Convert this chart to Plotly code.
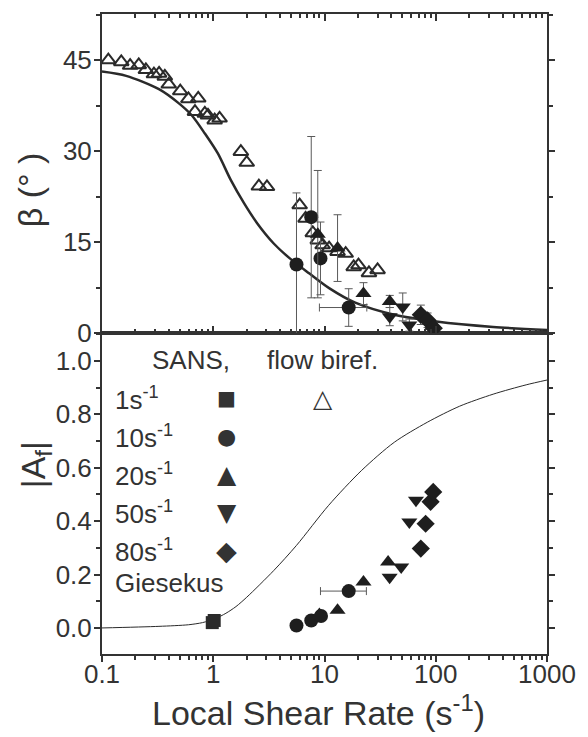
import plotly.graph_objects as go

# ---------------- data ----------------
# Top panel: orientation angle beta (deg)
biref_rate = [0.114, 0.149, 0.179, 0.214, 0.248, 0.293, 0.326, 0.367, 0.398, 0.505,
              0.598, 0.733, 0.685, 0.84, 0.897, 1.03, 1.14, 1.77, 2.0, 2.57, 3.04,
              5.98, 6.76, 7.85, 8.7, 9.62, 11.0, 13.1, 15.5, 18.3, 20.2, 25.1, 30.0]
biref_beta = [45.0, 44.7, 44.1, 44.2, 43.4, 42.7, 42.8, 42.3, 41.0, 39.9,
              38.6, 38.7, 36.5, 36.2, 35.9, 35.1, 35.4, 29.9, 28.1, 24.2, 24.1,
              21.1, 18.9, 16.5, 15.3, 14.5, 14.0, 13.4, 13.1, 10.9, 11.2, 9.9, 10.4]

b10_rate = [5.6, 7.6, 9.2, 16.5]
b10_beta = [11.3, 19.1, 12.3, 4.2]
b10_err = [11.8, 13.3, 6.0, 3.1]
b10_xerr = [0.0, 0.0, 0.0, 7.5]

b20_rate = [8.7, 13.1, 22.4, 38.6]
b20_beta = [16.3, 14.0, 6.5, 5.2]
b20_err = [10.5, 5.5, 1.8, 1.0]

b50_rate = [38.6, 50.5, 57.9]
b50_beta = [2.7, 4.3, 1.3]
b50_err = [1.5, 2.3, 1.0]

b80_rate = [73.4, 84.4, 96.0]
b80_beta = [3.0, 2.1, 0.8]
b80_err = [1.6, 1.2, 0.8]

gies_beta_rate = [0.1, 0.165, 0.325, 0.488, 0.64, 0.84, 1.1, 1.44, 1.89, 2.48, 3.48, 4.88,
                  7.33, 11.0, 18.9, 42.4, 101, 328, 1000]
gies_beta = [43.1, 42.4, 40.2, 37.9, 35.9, 32.9, 29.6, 25.2, 21.4, 18.1, 14.8, 12.3,
             9.8, 7.4, 5.0, 3.0, 1.9, 1.0, 0.5]

# Bottom panel: alignment |A_f|
a1_rate = [0.98, 1.02]
a1_val = [0.02, 0.028]

a10_rate = [5.6, 7.6, 9.3, 16.5]
a10_val = [0.009, 0.028, 0.045, 0.138]
a10_xerr = [0.0, 0.0, 0.0, 7.3]

a20_rate = [9.0, 13.1, 22.4, 37.3]
a20_val = [0.05, 0.066, 0.172, 0.247]

a50_rate = [38.5, 48.9, 57.9, 66.4]
a50_val = [0.19, 0.228, 0.397, 0.478]

a80_rate = [73.4, 81.1, 89.9, 94.9]
a80_val = [0.297, 0.39, 0.472, 0.509]

gies_a_rate = [0.1, 0.325, 0.6, 0.8, 1.03, 1.3, 1.6, 2.0, 3.5, 5.6, 10.9, 21.6, 42.4, 84, 164, 328, 650, 1000]
gies_a = [0.0, 0.006, 0.012, 0.02, 0.034, 0.055, 0.08, 0.115, 0.215, 0.309, 0.459, 0.59, 0.695, 0.77, 0.83, 0.875, 0.91, 0.928]

x_tickvals = [0.1, 1, 10, 100, 1000]
x_ticktext = ["0.1", "1", "10", "100", "1000"]
beta_ticks = [0, 15, 30, 45]
a_ticks = [0.0, 0.2, 0.4, 0.6, 0.8, 1.0]
a_ticktext = ["0.0", "0.2", "0.4", "0.6", "0.8", "1.0"]

# ---------------- styling ----------------
W, H = 588, 737
ML, MR, MT, MB = 102, 33, 14, 83
DARK = "#1e1e1e"
AX = "#333333"
ERR = "#5a5a5a"
FONT = "Liberation Sans"
split = 321 / 640.0

x_minor = [m * 10 ** e for e in range(-1, 3) for m in range(2, 10)]

fig = go.Figure()

def err(arr, w=4):
    return dict(type="data", array=arr, visible=True, color=ERR, thickness=1, width=w)

# ---- top panel ----
fig.add_trace(go.Scatter(x=gies_beta_rate, y=gies_beta, mode="lines",
                         line=dict(color="#2a2a2a", width=2.5, shape="spline", smoothing=0.8),
                         xaxis="x2", yaxis="y2", showlegend=False))
fig.add_trace(go.Scatter(x=biref_rate, y=biref_beta, mode="markers",
                         marker=dict(symbol="triangle-up-open", size=13, color="#2a2a2a", line=dict(width=2)),
                         xaxis="x2", yaxis="y2", showlegend=False))
fig.add_trace(go.Scatter(x=b10_rate, y=b10_beta, mode="markers", error_y=err(b10_err), error_x=err(b10_xerr),
                         marker=dict(symbol="circle", size=14, color=DARK), xaxis="x2", yaxis="y2", showlegend=False))
fig.add_trace(go.Scatter(x=b20_rate, y=b20_beta, mode="markers", error_y=err(b20_err),
                         marker=dict(symbol="triangle-up", size=14, color=DARK), xaxis="x2", yaxis="y2", showlegend=False))
fig.add_trace(go.Scatter(x=b50_rate, y=b50_beta, mode="markers", error_y=err(b50_err),
                         marker=dict(symbol="triangle-down", size=14, color=DARK), xaxis="x2", yaxis="y2", showlegend=False))
fig.add_trace(go.Scatter(x=b80_rate, y=b80_beta, mode="markers", error_y=err(b80_err),
                         marker=dict(symbol="diamond", size=14, color=DARK), xaxis="x2", yaxis="y2", showlegend=False))

# ---- bottom panel ----
fig.add_trace(go.Scatter(x=gies_a_rate, y=gies_a, mode="lines",
                         line=dict(color="#2a2a2a", width=1, shape="spline", smoothing=0.8),
                         xaxis="x", yaxis="y", showlegend=False))
fig.add_trace(go.Scatter(x=a1_rate, y=a1_val, mode="markers",
                         marker=dict(symbol="square", size=13, color="#2a2a2a"), xaxis="x", yaxis="y", showlegend=False))
fig.add_trace(go.Scatter(x=a10_rate, y=a10_val, mode="markers", error_x=err(a10_xerr),
                         marker=dict(symbol="circle", size=14, color=DARK), xaxis="x", yaxis="y", showlegend=False))
fig.add_trace(go.Scatter(x=a20_rate, y=a20_val, mode="markers",
                         marker=dict(symbol="triangle-up", size=14, color=DARK), xaxis="x", yaxis="y", showlegend=False))
fig.add_trace(go.Scatter(x=a50_rate, y=a50_val, mode="markers",
                         marker=dict(symbol="triangle-down", size=14, color=DARK), xaxis="x", yaxis="y", showlegend=False))
fig.add_trace(go.Scatter(x=a80_rate, y=a80_val, mode="markers",
                         marker=dict(symbol="diamond", size=14, color=DARK), xaxis="x", yaxis="y", showlegend=False))

tickfont = dict(family=FONT, size=26, color=AX)
common_x = dict(type="log", range=[-1, 3], showline=True, linecolor=AX, linewidth=2,
                tickvals=x_tickvals, ticktext=x_ticktext, tickcolor=AX, tickwidth=2,
                showgrid=False, zeroline=False, tickfont=tickfont)

fig.update_layout(
    width=W, height=H, margin=dict(l=ML, r=MR, t=MT, b=MB),
    paper_bgcolor="white", plot_bgcolor="white",
    font=dict(family=FONT, color=AX),
    xaxis=dict(**common_x, anchor="y", ticks="outside", ticklen=6, mirror=True, ticklabelstandoff=-10,
               minor=dict(tickvals=x_minor, ticks="outside", ticklen=4, tickwidth=1.5, tickcolor=AX)),
    xaxis2=dict(**common_x, anchor="y2", matches="x", ticks="inside", ticklen=7, mirror="ticks",
                showticklabels=False,
                minor=dict(tickvals=x_minor, ticks="inside", ticklen=4, tickwidth=1.5, tickcolor=AX)),
    yaxis=dict(domain=[0, split], range=[-0.0975, 1.104], showline=True, linecolor=AX, linewidth=2,
               ticks="outside", ticklen=6, tickwidth=2, tickcolor=AX, mirror="ticks", ticklabelstandoff=-3,
               tickvals=a_ticks, ticktext=a_ticktext, tickfont=tickfont, showgrid=False, zeroline=False,
               minor=dict(dtick=0.1, tick0=0, ticks="outside", ticklen=4, tickwidth=1.5, tickcolor=AX)),
    yaxis2=dict(domain=[split, 1], range=[0, 52.6], showline=True, linecolor=AX, linewidth=2,
                ticks="outside", ticklen=6, tickwidth=2, tickcolor=AX, mirror="ticks", ticklabelstandoff=-3,
                tickvals=beta_ticks, tickfont=tickfont, showgrid=False, zeroline=False,
                minor=dict(dtick=7.5, tick0=0, ticks="outside", ticklen=4, tickwidth=1.5, tickcolor=AX)),
)

PW, PH = W - ML - MR, H - MT - MB

def px(xp):
    return (xp - ML) / PW

def py(yp):
    return (H - MB - yp) / PH

def note(text, xp, yp, size=26, xanchor="center", angle=0, family=FONT):
    fig.add_annotation(text=text, x=px(xp), y=py(yp), xref="paper", yref="paper",
                       showarrow=False, xanchor=xanchor, yanchor="middle", textangle=angle,
                       font=dict(family=family, size=size, color=AX))

# axis titles
note("Local Shear Rate (s<sup>-1</sup>)", 322, 710, size=34)
note("β (° )", 29, 190, size=34, angle=-90)
note("|A<sub>f</sub>|", 34, 465, size=34, angle=-90)

# legend (text + glyphs)
note("SANS,", 193, 360)
note("flow biref.", 326, 360)
legend_labels = ["1s<sup>-1</sup>", "10s<sup>-1</sup>", "20s<sup>-1</sup>", "50s<sup>-1</sup>", "80s<sup>-1</sup>"]
legend_glyphs = ["■", "●", "▲", "▼", "◆"]
legend_sizes = [20, 22, 25, 25, 27]
legend_y = [398, 436.7, 474, 512.7, 550.7]
for lab, g, s, yy in zip(legend_labels, legend_glyphs, legend_sizes, legend_y):
    note(lab, 113, yy, xanchor="left")
    note(g, 229, yy, size=s, family="DejaVu Sans")
note("△", 327, 398, size=25, family="DejaVu Sans")
note("Giesekus", 113, 583, xanchor="left")

fig.write_html("out.html")
